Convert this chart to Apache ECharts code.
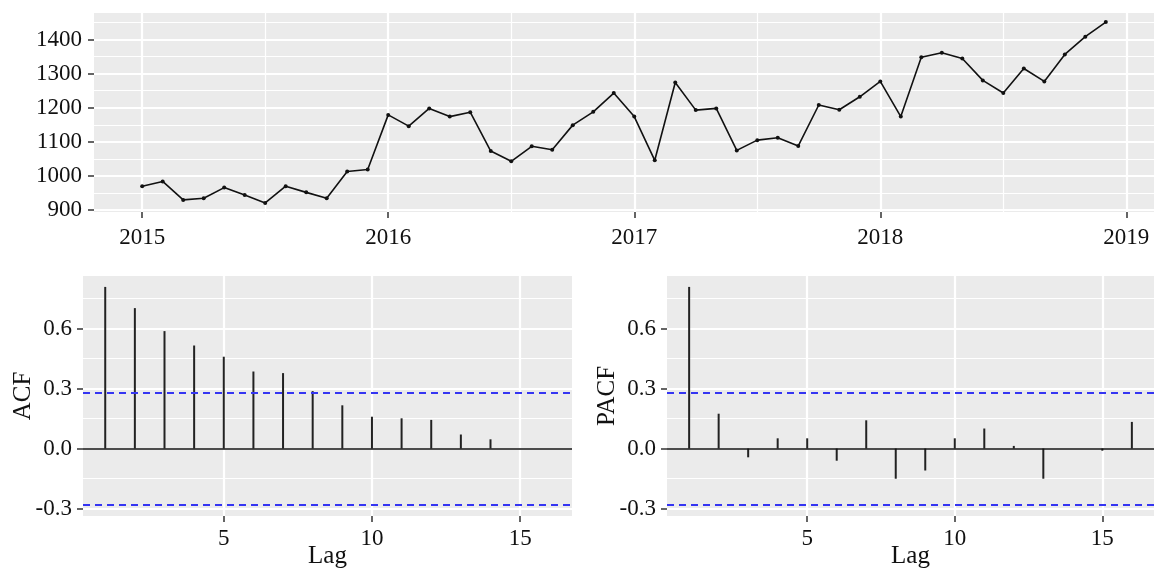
<!DOCTYPE html>
<html><head><meta charset="utf-8">
<script src="https://cdn.jsdelivr.net/npm/echarts@6/dist/echarts.min.js"></script>
<style>html,body{margin:0;padding:0;background:#fff}#c{width:1162px;height:569px}</style>
</head><body><div id="c"></div>
<script>
// ---- data ----
const startYear = 2015;
const monthlyValues = [
  970, 984, 930, 935, 966, 944, 921, 970, 952, 935, 1013, 1019,
  1179, 1146, 1198, 1174, 1187, 1073, 1043, 1087, 1077, 1149, 1188, 1243,
  1174, 1046, 1274, 1193, 1198, 1075, 1105, 1112, 1088, 1208, 1194, 1232,
  1277, 1174, 1348, 1361, 1344, 1280, 1243, 1315, 1277, 1356, 1408, 1451
];
const yearTicks = [2015, 2016, 2017, 2018, 2019];
const yearMinor = [2015.5, 2016.5, 2017.5, 2018.5];
const levelTicks = [900, 1000, 1100, 1200, 1300, 1400];
const levelMinor = [950, 1050, 1150, 1250, 1350, 1450];
const lags = [1, 2, 3, 4, 5, 6, 7, 8, 9, 10, 11, 12, 13, 14, 15, 16];
const acfValues = [0.808, 0.702, 0.587, 0.515, 0.459, 0.385, 0.377, 0.287, 0.216, 0.159, 0.151, 0.143, 0.070, 0.046, 0.0, 0.0];
const pacfValues = [0.808, 0.174, -0.044, 0.051, 0.051, -0.061, 0.141, -0.151, -0.110, 0.051, 0.100, 0.013, -0.151, 0.0, -0.011, 0.133];
const ciBound = 0.2829;
const corrTicks = [-0.3, 0, 0.3, 0.6];
const corrMinor = [-0.15, 0.15, 0.45, 0.75];
const lagTicks = [5, 10, 15];

// ---- helpers ----
const FONT = '"Liberation Serif", "Times New Roman", serif';
function expand(lo, hi) { const s = (hi - lo) * 0.05; return [lo - s, hi + s]; }

const tsX = monthlyValues.map((v, i) => startYear + i / 12);
const tsPts = monthlyValues.map((v, i) => [tsX[i], v]);
const tsXr = expand(tsX[0], tsX[tsX.length - 1]);
const tsYr = expand(Math.min(...monthlyValues), Math.max(...monthlyValues));
const lagXr = expand(lags[0], lags[lags.length - 1]);
const acfYr = expand(Math.min(-ciBound, ...acfValues), Math.max(ciBound, ...acfValues));
const pacfYr = expand(Math.min(-ciBound, ...pacfValues), Math.max(ciBound, ...pacfValues));

function gridLines(idx, xMaj, xMin, yMaj, yMin, pt) {
  const d = [];
  xMin.forEach(v => d.push({ xAxis: v, lineStyle: { width: 1.2 } }));
  yMin.forEach(v => d.push({ yAxis: v, lineStyle: { width: 1.2 } }));
  xMaj.forEach(v => d.push({ xAxis: v, lineStyle: { width: 2.2 } }));
  yMaj.forEach(v => d.push({ yAxis: v, lineStyle: { width: 2.2 } }));
  return {
    type: 'line', xAxisIndex: idx, yAxisIndex: idx, data: [pt], showSymbol: false,
    lineStyle: { opacity: 0 }, silent: true, z: 1, animation: false,
    markLine: {
      z: 1, silent: true, symbol: ['none', 'none'], label: { show: false }, animation: false,
      lineStyle: { color: '#ffffff', type: 'solid' }, emphasis: { disabled: true }, data: d
    }
  };
}

const tickStyle = { show: true, length: 6, lineStyle: { color: '#333', width: 1.5 } };
const labelStyle = { fontFamily: FONT, fontSize: 23, color: '#111' };
const nameStyle = { fontFamily: FONT, fontSize: 25, color: '#111' };

function xAx(grid, range, ticks, fmt, name, margin) {
  return {
    type: 'value', gridIndex: grid, min: range[0], max: range[1],
    axisLine: { show: false, onZero: false },
    axisTick: Object.assign({ customValues: ticks }, tickStyle),
    axisLabel: Object.assign({ customValues: ticks, margin: margin, formatter: fmt }, labelStyle),
    splitLine: { show: false },
    name: name || '', nameLocation: 'middle', nameGap: 28, nameMoveOverlap: false, nameTextStyle: nameStyle
  };
}
function yAx(grid, range, ticks, fmt, name, margin) {
  return {
    type: 'value', gridIndex: grid, min: range[0], max: range[1],
    axisLine: { show: false, onZero: false },
    axisTick: Object.assign({ customValues: ticks }, tickStyle),
    axisLabel: Object.assign({ customValues: ticks, margin: margin, formatter: fmt }, labelStyle),
    splitLine: { show: false },
    name: name || '', nameLocation: 'middle', nameGap: 47, nameMoveOverlap: false, nameTextStyle: nameStyle
  };
}
const f0 = v => String(Math.round(v));
const f1 = v => (Math.abs(v) < 1e-9 ? 0 : v).toFixed(1);

function corrSeries(idx, vals) {
  return {
    type: 'bar', xAxisIndex: idx, yAxisIndex: idx, barWidth: 2, z: 3,
    itemStyle: { color: '#222' }, animation: false, silent: true,
    data: lags.map((l, i) => [l, vals[i]]),
    markLine: {
      silent: true, symbol: ['none', 'none'], label: { show: false }, animation: false,
      emphasis: { disabled: true },
      data: [
        { yAxis: 0, lineStyle: { color: '#111', width: 1.6, type: 'solid' } },
        { yAxis: ciBound, lineStyle: { color: '#3535f2', width: 2, type: [7, 5] } },
        { yAxis: -ciBound, lineStyle: { color: '#3535f2', width: 2, type: [7, 5] } }
      ]
    }
  };
}

const gridBase = { show: true, backgroundColor: '#EBEBEB', borderWidth: 0, containLabel: false, outerBoundsMode: 'none' };
const option = {
  backgroundColor: '#ffffff',
  animation: false,
  grid: [
    Object.assign({ left: 94, top: 13, width: 1060, height: 199 }, gridBase),
    Object.assign({ left: 83, top: 276, width: 489, height: 240 }, gridBase),
    Object.assign({ left: 667, top: 276, width: 487, height: 240 }, gridBase)
  ],
  xAxis: [
    xAx(0, tsXr, yearTicks, f0, '', 14),
    xAx(1, lagXr, lagTicks, f0, 'Lag', 11),
    xAx(2, lagXr, lagTicks, f0, 'Lag', 11)
  ],
  yAxis: [
    yAx(0, tsYr, levelTicks, f0, '', 12),
    yAx(1, acfYr, corrTicks, f1, 'ACF', 11),
    yAx(2, pacfYr, corrTicks, f1, 'PACF', 11)
  ],
  series: [
    gridLines(0, yearTicks, yearMinor, levelTicks, levelMinor, tsPts[0]),
    gridLines(1, lagTicks, [], corrTicks, corrMinor, [lags[0], 0]),
    gridLines(2, lagTicks, [], corrTicks, corrMinor, [lags[0], 0]),
    {
      type: 'line', xAxisIndex: 0, yAxisIndex: 0, data: tsPts, z: 3,
      symbol: 'circle', symbolSize: 4, showSymbol: true,
      itemStyle: { color: '#111' }, lineStyle: { color: '#111', width: 1.6 },
      silent: true, animation: false
    },
    corrSeries(1, acfValues),
    corrSeries(2, pacfValues)
  ]
};
const chart = echarts.init(document.getElementById('c'), null, { renderer: 'canvas' });
chart.setOption(option);
</script>
</body></html>
